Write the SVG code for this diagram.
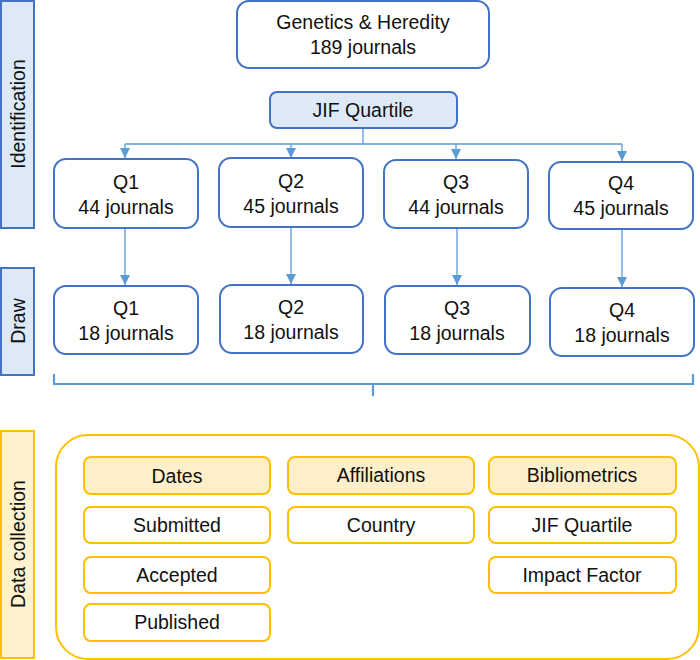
<svg xmlns="http://www.w3.org/2000/svg" width="700" height="660" viewBox="0 0 700 660">
<style>
text{font-family:"Liberation Sans",Arial,sans-serif;font-size:19.5px;fill:#111;text-anchor:middle;dominant-baseline:central}
.side{fill:#dde9f6;stroke:#4472c4;stroke-width:2}
.sideY{fill:#fff2cc;stroke:#ffc000;stroke-width:2}
.bx{fill:#fff;stroke:#4472c4;stroke-width:2}
.bxf{fill:#dde9f6;stroke:#4472c4;stroke-width:2}
.ob{fill:#fff;stroke:#ffc000;stroke-width:2}
.obf{fill:#fdefc9;stroke:#ffc000;stroke-width:2}
.c{fill:none;stroke:#5b9bd5;stroke-width:1.3}
.br{fill:none;stroke:#5b9bd5;stroke-width:2.2}
</style>
<defs>
<marker id="ah" markerWidth="10" markerHeight="10" refX="10" refY="5" orient="auto" markerUnits="userSpaceOnUse">
<path d="M0,0 L10,5 L0,10 z" fill="#5b9bd5"/>
</marker>
</defs>

<g id="side-identification"><rect class="side" x="1" y="1" width="33" height="227"/><text transform="translate(18,114) rotate(-90)">Identification</text></g>
<g id="side-draw"><rect class="side" x="1" y="268" width="33" height="107"/><text transform="translate(18,321) rotate(-90)">Draw</text></g>
<g id="side-data"><rect class="sideY" x="1" y="431" width="33" height="227"/><text transform="translate(18,544) rotate(-90)">Data collection</text></g>

<g id="connectors">
<path class="c" d="M363,128 V144 M125,144 H622"/>
<path class="c" d="M125,144 V158" marker-end="url(#ah)"/>
<path class="c" d="M291,144 V158" marker-end="url(#ah)"/>
<path class="c" d="M456,144 V159" marker-end="url(#ah)"/>
<path class="c" d="M622,144 V161" marker-end="url(#ah)"/>
<path class="c" d="M125,228 V285" marker-end="url(#ah)"/>
<path class="c" d="M291,227 V284" marker-end="url(#ah)"/>
<path class="c" d="M457,228 V285" marker-end="url(#ah)"/>
<path class="c" d="M622,229 V287" marker-end="url(#ah)"/>
<path class="br" d="M54,374 V384 H693 V374 M373,384 V396"/>
</g>

<g id="genetics"><rect class="bx" x="237" y="1" width="252" height="67" rx="12"/><text x="363" y="22">Genetics &amp; Heredity</text><text x="363" y="47">189 journals</text></g>
<g id="jif"><rect class="bxf" x="270" y="92" width="187" height="36" rx="7"/><text x="363" y="110">JIF Quartile</text></g>

<g id="q1a"><rect class="bx" x="54" y="159" width="144" height="69" rx="12"/><text x="126" y="182">Q1</text><text x="126" y="207">44 journals</text></g>
<g id="q2a"><rect class="bx" x="219" y="158" width="144" height="69" rx="12"/><text x="291" y="181">Q2</text><text x="291" y="206">45 journals</text></g>
<g id="q3a"><rect class="bx" x="384" y="160" width="144" height="68" rx="12"/><text x="456" y="182">Q3</text><text x="456" y="207">44 journals</text></g>
<g id="q4a"><rect class="bx" x="549" y="162" width="144" height="67" rx="12"/><text x="621" y="183">Q4</text><text x="621" y="208">45 journals</text></g>

<g id="q1b"><rect class="bx" x="54" y="286" width="144" height="68" rx="12"/><text x="126" y="308">Q1</text><text x="126" y="333">18 journals</text></g>
<g id="q2b"><rect class="bx" x="220" y="285" width="143" height="68" rx="12"/><text x="291" y="307">Q2</text><text x="291" y="332">18 journals</text></g>
<g id="q3b"><rect class="bx" x="385" y="286" width="145" height="68" rx="12"/><text x="457" y="308">Q3</text><text x="457" y="333">18 journals</text></g>
<g id="q4b"><rect class="bx" x="550" y="288" width="144" height="68" rx="12"/><text x="622" y="310">Q4</text><text x="622" y="335">18 journals</text></g>

<g id="data-container"><rect class="ob" x="56" y="435" width="643" height="224" rx="32"/></g>
<g id="dates"><rect class="obf" x="84" y="457" width="186" height="37" rx="7"/><text x="177" y="476">Dates</text></g>
<g id="submitted"><rect class="ob" x="84" y="507" width="186" height="36" rx="7"/><text x="177" y="525">Submitted</text></g>
<g id="accepted"><rect class="ob" x="84" y="557" width="186" height="36" rx="7"/><text x="177" y="575">Accepted</text></g>
<g id="published"><rect class="ob" x="84" y="604" width="186" height="37" rx="7"/><text x="177" y="622">Published</text></g>
<g id="affiliations"><rect class="obf" x="288" y="457" width="186" height="37" rx="7"/><text x="381" y="475">Affiliations</text></g>
<g id="country"><rect class="ob" x="288" y="507" width="186" height="36" rx="7"/><text x="381" y="525">Country</text></g>
<g id="bibliometrics"><rect class="obf" x="489" y="457" width="187" height="37" rx="7"/><text x="582" y="475">Bibliometrics</text></g>
<g id="jif2"><rect class="ob" x="489" y="507" width="187" height="36" rx="7"/><text x="582" y="525">JIF Quartile</text></g>
<g id="impact"><rect class="ob" x="489" y="557" width="187" height="36" rx="7"/><text x="582" y="575">Impact Factor</text></g>
</svg>
